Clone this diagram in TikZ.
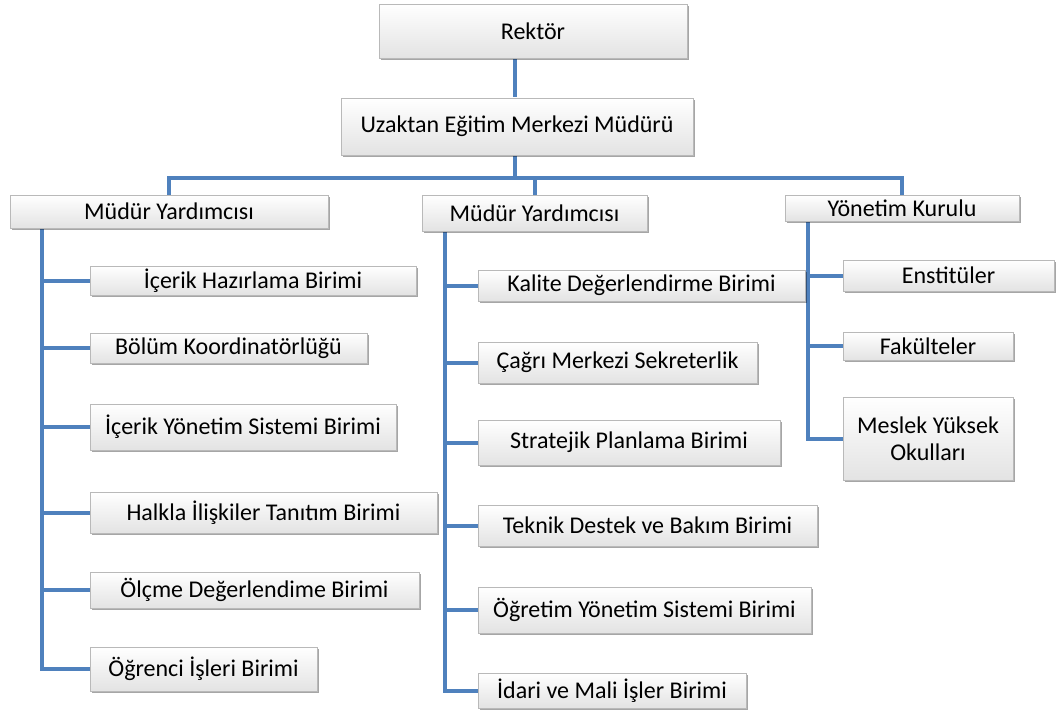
\documentclass[tikz,border=0pt]{standalone}
\usepackage{fontspec}
\setmainfont{Carlito}
\usetikzlibrary{shadows,backgrounds}
\definecolor{linkblue}{HTML}{4F81BD}
\tikzset{
  ubox/.style={draw=gray!55, line width=0.5pt, top color=white, bottom color=gray!22,
    inner sep=2pt, align=center, font=\fontsize{18}{20}\selectfont,
    drop shadow={shadow xshift=1.8pt, shadow yshift=-1.8pt, opacity=0.35, fill=black}},
  conn/.style={draw=linkblue, line width=3pt}
}
\newcommand\bx[6]{\node[ubox, minimum width={(#4-#2)*0.75pt}, minimum height={(#5-#3)*0.75pt}] (#1) at ({(#2+#4)/2},{(#3+#5)/2}) {#6};}
\begin{document}
\begin{tikzpicture}[x=0.75pt,y=-0.75pt]
\useasboundingbox (0,0) rectangle (1060,717);
% top
\bx{rek}{379}{4}{687}{58}{Rektör}
\bx{uemm}{341}{98}{693}{155}{Uzaktan Eğitim Merkezi Müdürü}
% level 2
\bx{lmy}{10}{195}{328}{228}{Müdür Yardımcısı}
\bx{mmy}{422}{195}{647}{231}{Müdür Yardımcısı}
\bx{yk}{785}{195}{1019}{221}{Yönetim Kurulu}
% left children
\bx{l1}{90}{266}{416}{295}{İçerik Hazırlama Birimi}
\bx{l2}{90}{333}{367}{363}{Bölüm Koordinatörlüğü}
\bx{l3}{90}{404}{396}{450}{İçerik Yönetim Sistemi Birimi}
\bx{l4}{90}{492}{437}{533}{Halkla İlişkiler Tanıtım Birimi}
\bx{l5}{90}{572}{419}{608}{Ölçme Değerlendime Birimi}
\bx{l6}{90}{647}{317}{691}{Öğrenci İşleri Birimi}
% middle children
\bx{m1}{478}{270}{805}{301}{Kalite Değerlendirme Birimi}
\bx{m2}{478}{342}{757}{383}{Çağrı Merkezi Sekreterlik}
\bx{m3}{478}{420}{780}{465}{Stratejik Planlama Birimi}
\bx{m4}{478}{505}{817}{546}{Teknik Destek ve Bakım Birimi}
\bx{m5}{478}{587}{811}{633}{Öğretim Yönetim Sistemi Birimi}
\bx{m6}{478}{673}{746}{708}{İdari ve Mali İşler Birimi}
% right children
\bx{r1}{843}{260}{1054}{291}{Enstitüler}
\bx{r2}{843}{332}{1013}{360}{Fakülteler}
\bx{r3}{843}{397}{1013}{480}{Meslek Yüksek\\Okulları}
\begin{scope}[on background layer]
\coordinate (hb) at (515,178);
\coordinate (ls) at (42,0);
\coordinate (ms) at (445,0);
\coordinate (rs) at (808,0);
\draw[conn] (rek.south -| hb) -- (uemm.north -| hb);
\draw[conn] (uemm.south -| hb) -- (hb);
\draw[conn] (lmy.north) |- (hb) -| (yk.north);
\draw[conn] (hb) -| (mmy.north);
\foreach \c in {l1,l2,l3,l4,l5,l6} \draw[conn] (lmy.south -| ls) |- (\c.west);
\foreach \c in {m1,m2,m3,m4,m5,m6} \draw[conn] (mmy.south -| ms) |- (\c.west);
\foreach \c in {r1,r2,r3} \draw[conn] (yk.south -| rs) |- (\c.west);
\end{scope}
\end{tikzpicture}
\end{document}
